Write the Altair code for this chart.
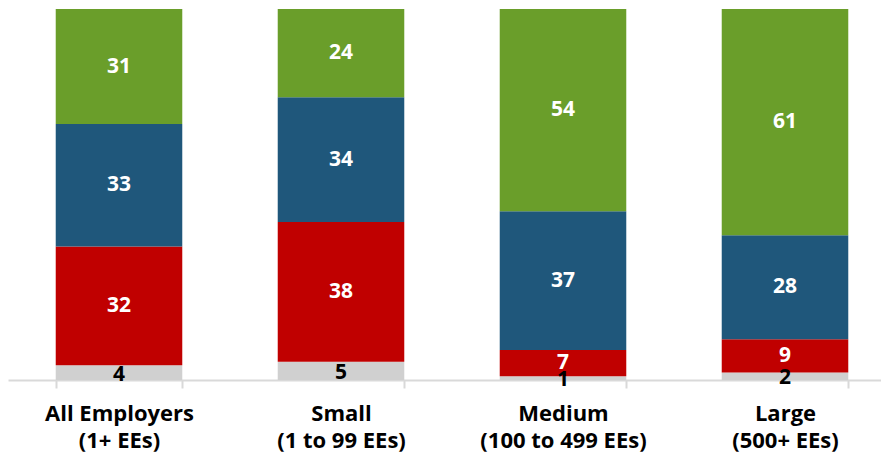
import altair as alt
import pandas as pd

categories = [
    "All Employers\n(1+ EEs)",
    "Small\n(1 to 99 EEs)",
    "Medium\n(100 to 499 EEs)",
    "Large\n(500+ EEs)",
]
series = ["Gray", "Red", "Blue", "Green"]
gray_vals = [4, 5, 1, 2]
red_vals = [32, 38, 7, 9]
blue_vals = [33, 34, 37, 28]
green_vals = [31, 24, 54, 61]
colors = ["#D0D0D0", "#C00000", "#1F577B", "#6A9E2A"]

rows = []
for si, (name, vals) in enumerate(zip(series, [gray_vals, red_vals, blue_vals, green_vals])):
    for c, v in zip(categories, vals):
        rows.append({"cat": c, "series": name, "order": si, "value": v})
df = pd.DataFrame(rows)

FONT = "Open Sans"

x = alt.X(
    "cat:N",
    sort=categories,
    title=None,
    scale=alt.Scale(range=[0, 888], paddingInner=0.43, paddingOuter=0.215),
    axis=alt.Axis(
        labelExpr="split(datum.label, '\\n')",
        labelAngle=0,
        labelFont=FONT,
        labelFontSize=22,
        labelFontWeight="bold",
        labelColor="black",
        labelLineHeight=27,
        labelPadding=15,
        domainColor="#D9D9D9",
        domainWidth=2,
        tickColor="#D9D9D9",
        tickWidth=2,
        tickSize=8,
        tickBand="extent",
    ),
)

base = (
    alt.Chart(df)
    .transform_stack(
        stack="value",
        groupby=["cat"],
        as_=["y0", "y1"],
        sort=[alt.SortField("order", order="ascending")],
        offset="normalize",
    )
    .transform_calculate(mid="(datum.y0 + datum.y1) / 2")
)

yscale = alt.Scale(domain=[0, 1], nice=False)

bars = base.mark_bar().encode(
    x=x,
    y=alt.Y("y0:Q", axis=None, scale=yscale),
    y2="y1:Q",
    color=alt.Color("series:N", scale=alt.Scale(domain=series, range=colors), legend=None),
)

labels_white = base.transform_filter("datum.series != 'Gray'").mark_text(
    font=FONT, fontSize=21, fontWeight="bold", color="white"
).encode(x=x, y=alt.Y("mid:Q", scale=yscale), text="value:Q")

labels_black = base.transform_filter("datum.series == 'Gray'").mark_text(
    font=FONT, fontSize=21, fontWeight="bold", color="black", dy=2
).encode(x=x, y=alt.Y("mid:Q", scale=yscale), text="value:Q")

chart = (
    alt.layer(bars, labels_white, labels_black)
    .properties(
        width=873,
        height=371,
        autosize=alt.AutoSizeParams(type="none"),
        padding={"left": 0, "top": 1, "right": 0, "bottom": 74},
    )
    .configure_view(stroke=None)
)

chart.save("out.html", embed_options={"renderer": "svg", "actions": False})
